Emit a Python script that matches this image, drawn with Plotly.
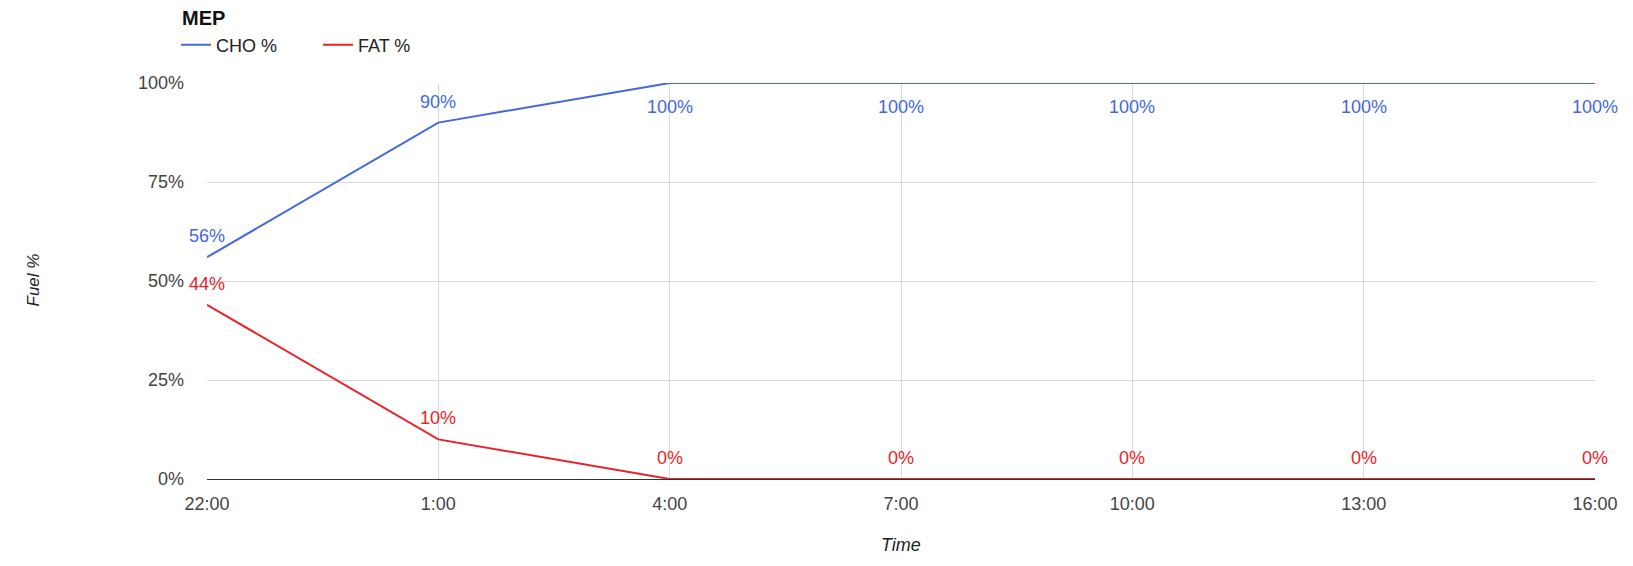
import plotly.graph_objects as go

# Time points and fuel mix
times = ["22:00", "1:00", "4:00", "7:00", "10:00", "13:00", "16:00"]
cho_pct = [56, 90, 100, 100, 100, 100, 100]
fat_pct = [44, 10, 0, 0, 0, 0, 0]
y_ticks = [0, 25, 50, 75, 100]
y_tick_labels = [f"{v}%" for v in y_ticks]

BLUE = "#4468d9"
RED = "#e8222a"
FONT = "Liberation Sans, Arial, sans-serif"

W, H = 1633, 566
ML, MR, MT, MB = 207, 38, 83, 87
PW, PH = W - ML - MR, H - MT - MB


def px_x(px):
    return (px - ML) / PW


def px_y(py):
    return (H - MB - py) / PH


fig = go.Figure()
fig.add_trace(go.Scatter(x=times, y=cho_pct, mode="lines", name="CHO %",
                         line=dict(color=BLUE, width=2)))
fig.add_trace(go.Scatter(x=times, y=fat_pct, mode="lines", name="FAT %",
                         line=dict(color=RED, width=2)))

annotations = []
# value labels: above each point, except at the 100% ceiling where they sit below
for series, color in ((cho_pct, BLUE), (fat_pct, RED)):
    for t, v in zip(times, series):
        annotations.append(dict(
            x=t, y=v, xref="x", yref="y", text=f"{v}%", showarrow=False,
            yshift=-24 if v >= 100 else 21,
            font=dict(family=FONT, size=18, color=color)))

annotations.append(dict(x=px_x(180), y=px_y(18), xref="paper", yref="paper",
                        text="<b>MEP</b>", showarrow=False, xanchor="left",
                        yanchor="middle", font=dict(family=FONT, size=20, color="#111")))
annotations.append(dict(x=px_x(21), y=px_y(280), xref="paper", yref="paper",
                        text="<i>Fuel %</i>", showarrow=False, textangle=-90,
                        font=dict(family=FONT, size=17, color="#222")))
annotations.append(dict(x=px_x(901), y=px_y(557), xref="paper", yref="paper",
                        text="<i>Time</i>", showarrow=False,
                        font=dict(family=FONT, size=18, color="#222")))

fig.update_layout(
    width=W, height=H,
    margin=dict(l=ML, r=MR, t=MT, b=MB),
    paper_bgcolor="white", plot_bgcolor="white",
    font=dict(family=FONT, size=18, color="#444"),
    showlegend=True,
    legend=dict(orientation="h", x=px_x(176), y=px_y(45), xanchor="left",
                yanchor="middle", font=dict(family=FONT, size=18, color="#222"),
                bgcolor="rgba(0,0,0,0)", entrywidth=97, entrywidthmode="pixels"),
    annotations=annotations,
    xaxis=dict(type="category", range=[0, len(times) - 1], showgrid=True,
               gridcolor="#d9d9d9", gridwidth=1, showline=False, zeroline=False,
               ticks="", ticklabelstandoff=12,
               tickfont=dict(family=FONT, size=18, color="#444")),
    yaxis=dict(range=[0, 100], tickmode="array", tickvals=y_ticks,
               ticktext=y_tick_labels, showgrid=True,
               gridcolor="#d9d9d9", gridwidth=1, zeroline=True, zerolinecolor="#333",
               zerolinewidth=1, showline=False, ticks="", ticklabelstandoff=22,
               tickfont=dict(family=FONT, size=18, color="#444")),
)

fig.write_html("out.html")
